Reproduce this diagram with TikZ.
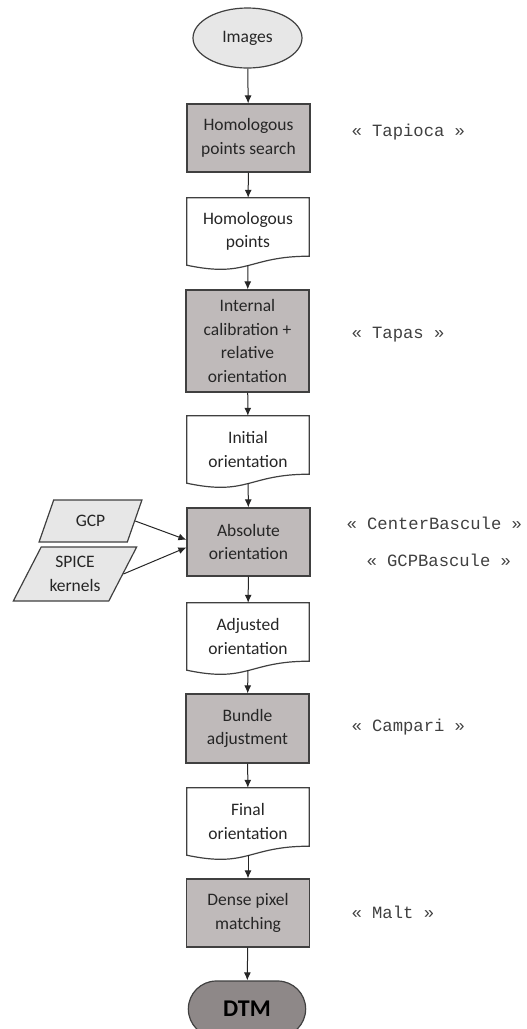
\documentclass[tikz,border=0pt]{standalone}
\usepackage{fontspec}
\setmainfont{Carlito}
\newfontfamily\cmdfont{Liberation Mono}
\usetikzlibrary{shapes.geometric,shapes.misc,arrows.meta}

\definecolor{boxgray}{HTML}{BFBABA}
\definecolor{dtmgray}{HTML}{8E8888}
\definecolor{inputgray}{HTML}{E7E7E7}
\definecolor{edgegray}{HTML}{404040}
\definecolor{txtgray}{HTML}{262626}

% wavy bottom of a document node
\newcommand\docshape[1]{%
  \draw[docline] (#1.north west) -- (#1.north east) -- ([yshift=9pt]#1.south east)
    .. controls ([yshift=9pt]#1.south) and ([yshift=-13pt]#1.south) .. (#1.south west) -- cycle;}

\begin{document}
\begin{tikzpicture}[x=1pt,y=1pt,
  font=\fontsize{17.5}{23.5}\selectfont, text=txtgray,
  procbox/.style={rectangle, draw=edgegray, line width=1.2pt, fill=boxgray,
    minimum width=123, minimum height=68, align=center, inner sep=0},
  docbox/.style={rectangle, minimum width=122, minimum height=67, align=center, inner sep=0},
  docline/.style={draw=edgegray, line width=1.2pt},
  databox/.style={trapezium, trapezium stretches=true, draw=edgegray, line width=1.2pt,
    fill=inputgray, align=center, inner sep=0},
  endbox/.style={rounded rectangle, draw=edgegray, line width=1.2pt, fill=dtmgray,
    minimum width=124, minimum height=56, font=\bfseries\fontsize{24}{28}\selectfont, text=black},
  toolname/.style={anchor=west, font=\cmdfont\fontsize{17.2}{20}\selectfont, text=edgegray},
  flow/.style={draw=black!85, line width=1pt, -{Latex[length=8pt,width=7pt]}}]
  \useasboundingbox (0,0) rectangle (527,-1029);

  \node[ellipse, draw=edgegray, line width=1.2pt, fill=inputgray,
    minimum width=109, minimum height=60, inner sep=0] (img) at (247.5,-38) {Images};
  \node[procbox] (hps) at (248.5,-138) {Homologous\\points search};
  \node[docbox] (hpts) at (248,-231.5) {Homologous\\points};
  \docshape{hpts}
  \node[procbox, minimum height=102] (icr) at (247.5,-341) {Internal\\calibration +\\relative\\orientation};
  \node[docbox] (init) at (248,-449.5) {Initial\\orientation};
  \docshape{init}
  \node[procbox] (abs) at (248.5,-542) {Absolute\\orientation};
  \node[databox, trapezium left angle=63, trapezium right angle=117,
    minimum width=103, minimum height=42] (gcp) at (90.5,-521) {GCP};
  \node[databox, trapezium left angle=59, trapezium right angle=121,
    minimum width=124, minimum height=54] (spice) at (75,-574) {SPICE\\kernels};
  \node[docbox] (adj) at (248,-636.5) {Adjusted\\orientation};
  \docshape{adj}
  \node[procbox, minimum height=69] (bun) at (247.5,-728.5) {Bundle\\adjustment};
  \node[docbox] (fin) at (248,-821.5) {Final\\orientation};
  \docshape{fin}
  \node[procbox] (dpm) at (248,-913) {Dense pixel\\matching};
  \node[endbox] (dtm) at (247,-1009) {DTM};

  % tool names
  \node[toolname] (tapioca) at (348,-132) {« Tapioca »};
  \node[toolname] (tapas) at (348,-335) {« Tapas »};
  \node[toolname] (center) at (343,-523) {« CenterBascule »};
  \node[toolname] (gcpbasc) at (363,-560) {« GCPBascule »};
  \node[toolname] (campari) at (348,-727) {« Campari »};
  \node[toolname] (malt) at (348,-912) {« Malt »};

  \draw[flow] (img) -- (hps);
  \draw[flow] (hps) -- (hpts);
  \draw[flow] (hpts) -- (icr);
  \draw[flow] (icr) -- (init);
  \draw[flow] (init) -- (abs);
  \draw[flow] (gcp.east) -- (abs.178);
  \draw[flow] (spice.east) -- (abs.185);
  \draw[flow] (abs) -- (adj);
  \draw[flow] (adj) -- (bun);
  \draw[flow] (bun) -- (fin);
  \draw[flow] (fin) -- (dpm);
  \draw[flow] (dpm) -- (dtm);
\end{tikzpicture}
\end{document}
